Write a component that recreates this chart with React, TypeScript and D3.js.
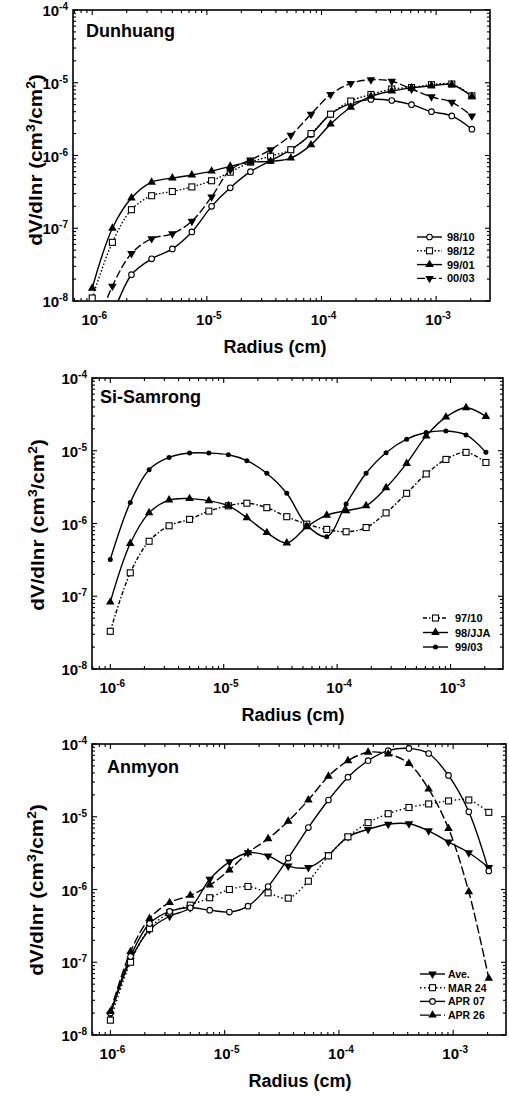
import React from "react";
import * as d3 from "d3";

// radius bins (cm), shared by every panel
const radius = [
  1e-6, 1.5e-6, 2.2e-6, 3.3e-6, 5e-6, 7.4e-6, 1.1e-5, 1.6e-5, 2.4e-5, 3.6e-5,
  5.4e-5, 8.1e-5, 1.2e-4, 1.8e-4, 2.7e-4, 4.1e-4, 6.1e-4, 9.1e-4, 1.37e-3, 2.05e-3,
];

// Dunhuang
const dh9810 = [3e-9, 7e-9, 2.3e-8, 3.8e-8, 5.2e-8, 8.9e-8, 2.0e-7, 3.6e-7, 6.0e-7, 8.5e-7, 1.2e-6, 1.95e-6, 3.7e-6, 5.2e-6, 5.9e-6, 5.7e-6, 5.0e-6, 4.0e-6, 3.5e-6, 2.3e-6];
const dh9812 = [1.1e-8, 6.4e-8, 1.8e-7, 2.8e-7, 3.2e-7, 3.7e-7, 4.5e-7, 5.9e-7, 8.1e-7, 9.8e-7, 1.2e-6, 2.0e-6, 3.7e-6, 5.6e-6, 6.9e-6, 8.2e-6, 8.6e-6, 9.4e-6, 9.6e-6, 6.6e-6];
const dh9901 = [1.5e-8, 1.0e-7, 2.6e-7, 4.3e-7, 4.9e-7, 5.4e-7, 6.1e-7, 7.1e-7, 8.1e-7, 8.3e-7, 9.2e-7, 1.4e-6, 2.7e-6, 4.6e-6, 6.5e-6, 7.7e-6, 8.5e-6, 9.1e-6, 9.4e-6, 6.5e-6];
const dh0003 = [3e-9, 1.6e-8, 4.5e-8, 7.2e-8, 8.4e-8, 1.25e-7, 2.7e-7, 6.3e-7, 8.7e-7, 1.2e-6, 1.9e-6, 3.7e-6, 6.9e-6, 9.8e-6, 1.1e-5, 1.05e-5, 8.2e-6, 6.4e-6, 5.4e-6, 3.5e-6];

// Si-Samrong
const ss9710 = [3.3e-8, 2.1e-7, 5.7e-7, 9.3e-7, 1.14e-6, 1.48e-6, 1.75e-6, 1.9e-6, 1.65e-6, 1.24e-6, 9.8e-7, 8.3e-7, 7.7e-7, 8.8e-7, 1.4e-6, 2.6e-6, 4.8e-6, 7.6e-6, 9.5e-6, 6.9e-6];
const ss98jja = [8.3e-8, 5.3e-7, 1.4e-6, 2.1e-6, 2.2e-6, 2.05e-6, 1.75e-6, 1.2e-6, 7.5e-7, 5.4e-7, 9.0e-7, 1.3e-6, 1.5e-6, 1.75e-6, 3.1e-6, 6.7e-6, 1.6e-5, 2.9e-5, 3.9e-5, 2.96e-5];
const ss9903 = [3.2e-7, 1.94e-6, 5.5e-6, 8.1e-6, 9.3e-6, 9.3e-6, 8.8e-6, 7.3e-6, 4.9e-6, 2.6e-6, 9.5e-7, 6.6e-7, 1.85e-6, 4.9e-6, 9.4e-6, 1.44e-5, 1.78e-5, 1.87e-5, 1.65e-5, 9.5e-6];

// Anmyon
const amAve = [1.9e-8, 1.07e-7, 2.8e-7, 4.3e-7, 5.6e-7, 1.38e-6, 2.4e-6, 3.2e-6, 2.9e-6, 2.1e-6, 2.0e-6, 3.0e-6, 5.3e-6, 6.7e-6, 7.9e-6, 8.0e-6, 6.4e-6, 4.5e-6, 3.2e-6, 2.0e-6];
const amMar24 = [1.6e-8, 1.0e-7, 2.9e-7, 4.8e-7, 6.1e-7, 7.7e-7, 1.0e-6, 1.1e-6, 9.0e-7, 7.6e-7, 1.3e-6, 2.9e-6, 5.3e-6, 8.3e-6, 1.1e-5, 1.34e-5, 1.5e-5, 1.65e-5, 1.7e-5, 1.15e-5];
const amApr07 = [2.0e-8, 1.2e-7, 3.4e-7, 5.0e-7, 5.6e-7, 5.2e-7, 4.9e-7, 5.9e-7, 1.1e-6, 2.7e-6, 7.1e-6, 1.7e-5, 3.5e-5, 5.9e-5, 8.1e-5, 8.7e-5, 7.4e-5, 3.7e-5, 1.17e-5, 1.8e-6];
const amApr26 = [2.1e-8, 1.4e-7, 4.0e-7, 6.6e-7, 8.3e-7, 1.15e-6, 1.85e-6, 3.2e-6, 5.0e-6, 8.7e-6, 1.7e-5, 3.6e-5, 5.9e-5, 7.7e-5, 7.3e-5, 5.4e-5, 2.4e-5, 6.9e-6, 9.3e-7, 6.0e-8];

const xMajor = [-6, -5, -4, -3];
const yMajor = [-8, -7, -6, -5, -4];

type Marker = "circle" | "square" | "triUp" | "triDown" | "dot";
type Series = { label: string; values: number[]; dash: string | null; marker: Marker };

const panels = [
  {
    name: "Dunhuang",
    frame: { left: 73, right: 490, top: 10, bottom: 301 },
    xDomain: [6.8e-7, 2.95e-3],
    namePos: [86, 37],
    titleX: 275,
    yTitle: [42, 160],
    legend: { x: 417, y: 237, step: 13.8, fs: 11, gap: 30 },
    series: [
      { label: "98/10", values: dh9810, dash: null, marker: "circle" },
      { label: "98/12", values: dh9812, dash: "1.5,2", marker: "square" },
      { label: "99/01", values: dh9901, dash: null, marker: "triUp" },
      { label: "00/03", values: dh0003, dash: "8,3", marker: "triDown" },
    ] as Series[],
  },
  {
    name: "Si-Samrong",
    frame: { left: 92, right: 503, top: 378, bottom: 669 },
    xDomain: [6.9e-7, 2.9e-3],
    namePos: [100, 403],
    titleX: 293,
    yTitle: [44, 525],
    legend: { x: 423, y: 618, step: 14.5, fs: 11, gap: 32 },
    series: [
      { label: "97/10", values: ss9710, dash: "4,2,1.5,2", marker: "square" },
      { label: "98/JJA", values: ss98jja, dash: null, marker: "triUp" },
      { label: "99/03", values: ss9903, dash: null, marker: "dot" },
    ] as Series[],
  },
  {
    name: "Anmyon",
    frame: { left: 92, right: 506, top: 744, bottom: 1035 },
    xDomain: [6.9e-7, 2.9e-3],
    namePos: [107, 773],
    titleX: 300,
    yTitle: [43, 890],
    legend: { x: 420, y: 974, step: 13.7, fs: 10.5, gap: 28 },
    series: [
      { label: "Ave.", values: amAve, dash: null, marker: "triDown" },
      { label: "MAR 24", values: amMar24, dash: "1.5,2.5", marker: "square" },
      { label: "APR 07", values: amApr07, dash: null, marker: "circle" },
      { label: "APR 26", values: amApr26, dash: "9,3", marker: "triUp" },
    ] as Series[],
  },
];

const font = "'Liberation Sans', Arial, sans-serif";

function MarkerShape({ type, x, y }: { type: Marker; x: number; y: number }) {
  if (type === "circle")
    return <circle cx={x} cy={y} r={2.8} fill="#fff" stroke="#000" strokeWidth={1.1} />;
  if (type === "dot") return <circle cx={x} cy={y} r={2.5} fill="#000" />;
  if (type === "square")
    return <rect x={x - 3} y={y - 3} width={6} height={6} fill="#fff" stroke="#000" strokeWidth={1.1} />;
  const path = d3.symbol().type(d3.symbolTriangle).size(32)() as string;
  return (
    <path
      d={path}
      transform={`translate(${x},${y})${type === "triDown" ? " rotate(180)" : ""}`}
      fill="#000"
    />
  );
}

function Pow({ x, y, exp, anchor }: { x: number; y: number; exp: number; anchor: string }) {
  return (
    <text x={x} y={y} textAnchor={anchor} fontFamily={font} fontWeight="bold" fontSize={15}>
      10<tspan dy={-6} fontSize={10}>{exp}</tspan>
    </text>
  );
}

function Panel({ p, idx }: { p: (typeof panels)[number]; idx: number }) {
  const { left, right, top, bottom } = p.frame;
  const x = d3.scaleLog().domain(p.xDomain).range([left, right]);
  const y = d3.scaleLog().domain([1e-8, 1e-4]).range([bottom, top]);
  const line = d3
    .line<number>()
    .x((_, i) => x(radius[i]))
    .y((d) => y(d))
    .curve(d3.curveCatmullRom.alpha(0.5));

  const xMinor: number[] = [];
  for (let e = -7; e <= -3; e++)
    for (let k = 2; k <= 9; k++) {
      const v = k * Math.pow(10, e);
      if (v > p.xDomain[0] && v < p.xDomain[1]) xMinor.push(v);
    }
  const yMinor: number[] = [];
  for (let e = -8; e <= -5; e++) for (let k = 2; k <= 9; k++) yMinor.push(k * Math.pow(10, e));

  const clipId = `clip${idx}`;
  const maj = 5;
  const mnr = 3;

  return (
    <g>
      <defs>
        <clipPath id={clipId}>
          <rect x={left} y={top} width={right - left} height={bottom - top} />
        </clipPath>
      </defs>
      {/* ticks, inward on all four sides */}
      <g stroke="#000" strokeWidth={1.1}>
        {xMajor.map((e) => {
          const px = x(Math.pow(10, e));
          return (
            <g key={"xM" + e}>
              <line x1={px} x2={px} y1={bottom} y2={bottom - maj} />
              <line x1={px} x2={px} y1={top} y2={top + maj} />
            </g>
          );
        })}
        {xMinor.map((v, i) => (
          <g key={"xm" + i}>
            <line x1={x(v)} x2={x(v)} y1={bottom} y2={bottom - mnr} />
            <line x1={x(v)} x2={x(v)} y1={top} y2={top + mnr} />
          </g>
        ))}
        {yMajor.map((e) => {
          const py = y(Math.pow(10, e));
          return (
            <g key={"yM" + e}>
              <line x1={left} x2={left + maj} y1={py} y2={py} />
              <line x1={right} x2={right - maj} y1={py} y2={py} />
            </g>
          );
        })}
        {yMinor.map((v, i) => (
          <g key={"ym" + i}>
            <line x1={left} x2={left + mnr} y1={y(v)} y2={y(v)} />
            <line x1={right} x2={right - mnr} y1={y(v)} y2={y(v)} />
          </g>
        ))}
      </g>
      <rect x={left} y={top} width={right - left} height={bottom - top} fill="none" stroke="#000" strokeWidth={1.6} />

      {/* tick labels */}
      {xMajor.map((e) => (
        <Pow key={"xl" + e} x={x(Math.pow(10, e)) + 2} y={bottom + 24} exp={e} anchor="middle" />
      ))}
      {yMajor.map((e) => (
        <Pow key={"yl" + e} x={left - 5} y={y(Math.pow(10, e)) + 6} exp={e} anchor="end" />
      ))}

      {/* series */}
      <g clipPath={`url(#${clipId})`}>
        {p.series.map((s) => (
          <path
            key={s.label}
            d={line(s.values) as string}
            fill="none"
            stroke="#000"
            strokeWidth={1.4}
            strokeDasharray={s.dash ?? undefined}
          />
        ))}
        {p.series.map((s) =>
          s.values.map((v, i) =>
            v >= 1e-8 ? <MarkerShape key={s.label + i} type={s.marker} x={x(radius[i])} y={y(v)} /> : null
          )
        )}
      </g>

      {/* legend */}
      {p.series.map((s, i) => {
        const ly = p.legend.y + i * p.legend.step;
        return (
          <g key={"lg" + s.label}>
            <line
              x1={p.legend.x}
              x2={p.legend.x + 25}
              y1={ly}
              y2={ly}
              stroke="#000"
              strokeWidth={1.4}
              strokeDasharray={s.dash ?? undefined}
            />
            <MarkerShape type={s.marker} x={p.legend.x + 12.5} y={ly} />
            <text x={p.legend.x + p.legend.gap} y={ly + 4} fontFamily={font} fontWeight="bold" fontSize={p.legend.fs}>
              {s.label}
            </text>
          </g>
        );
      })}

      {/* titles */}
      <text x={p.namePos[0]} y={p.namePos[1]} fontFamily={font} fontWeight="bold" fontSize={18}>
        {p.name}
      </text>
      <text x={p.titleX} y={bottom + 52} textAnchor="middle" fontFamily={font} fontWeight="bold" fontSize={18}>
        Radius (cm)
      </text>
      <text
        transform={`translate(${p.yTitle[0]},${p.yTitle[1]}) rotate(-90) scale(1.15,1)`}
        textAnchor="middle"
        fontFamily={font}
        fontWeight="bold"
        fontSize={18}
      >
        dV/dlnr (cm<tspan dy={-7} fontSize={12}>3</tspan>
        <tspan dy={7}>/cm</tspan>
        <tspan dy={-7} fontSize={12}>2</tspan>
        <tspan dy={7}>)</tspan>
      </text>
    </g>
  );
}

export default function App() {
  return (
    <svg
      width={509}
      height={1096}
      style={{ position: "absolute", left: 0, top: 0, background: "#fff" }}
    >
      {panels.map((p, i) => (
        <Panel key={p.name} p={p} idx={i} />
      ))}
    </svg>
  );
}
